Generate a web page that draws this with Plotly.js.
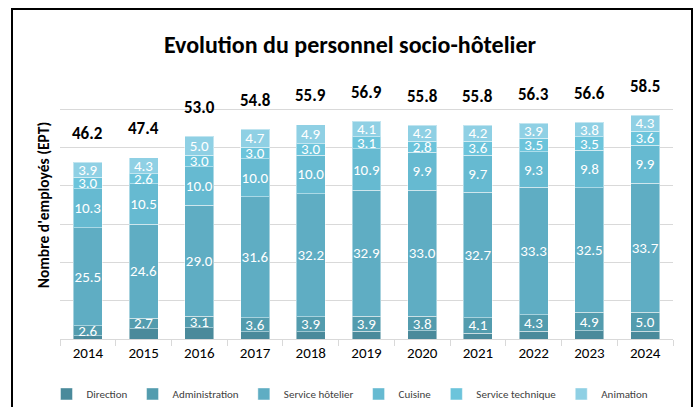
<!DOCTYPE html>
<html>
<head>
<meta charset="utf-8">
<script src="https://cdn.plot.ly/plotly-3.0.1.min.js"></script>
<style>
  html, body { margin: 0; padding: 0; background: #fff; }
  #wrap { position: relative; width: 700px; height: 407px; overflow: hidden; }
  #chart { width: 700px; height: 407px; }
  #frame { position: absolute; left: 11px; top: 8px; width: 682px; height: 430px;
           border: 2px solid #000; box-sizing: border-box; pointer-events: none; }
</style>
</head>
<body>
<div id="wrap">
  <div id="chart"></div>
  <div id="frame"></div>
</div>
<script>
const years = ['2014','2015','2016','2017','2018','2019','2020','2021','2022','2023','2024'];
const direction        = [0.9, 2.7, 2.9, 1.9, 1.9, 2.0, 2.1, 1.5, 2.0, 2.1, 2.0];
const administration   = [2.6, 2.7, 3.1, 3.6, 3.9, 3.9, 3.8, 4.1, 4.3, 4.9, 5.0];
const serviceHotelier  = [25.5, 24.6, 29.0, 31.6, 32.2, 32.9, 33.0, 32.7, 33.3, 32.5, 33.7];
const cuisine          = [10.3, 10.5, 10.0, 10.0, 10.0, 10.9, 9.9, 9.7, 9.3, 9.8, 9.9];
const serviceTechnique = [3.0, 2.6, 3.0, 3.0, 3.0, 3.1, 2.8, 3.6, 3.5, 3.5, 3.6];
const animation        = [3.9, 4.3, 5.0, 4.7, 4.9, 4.1, 4.2, 4.2, 3.9, 3.8, 4.3];
const totals           = [46.2, 47.4, 53.0, 54.8, 55.9, 56.9, 55.8, 55.8, 56.3, 56.6, 58.5];

const FONT = "Carlito, Lato, 'Liberation Sans', sans-serif";

const series = [
  {name: 'Direction',         values: direction,        color: '#4a8a9b', labels: false},
  {name: 'Administration',    values: administration,   color: '#539cae', labels: true},
  {name: 'Service hôtelier',  values: serviceHotelier,  color: '#5fadc3', labels: true},
  {name: 'Cuisine',           values: cuisine,          color: '#66bad1', labels: true},
  {name: 'Service technique', values: serviceTechnique, color: '#6cc4db', labels: true},
  {name: 'Animation',         values: animation,        color: '#8fd0e4', labels: true}
];

const traces = series.map(s => ({
  type: 'bar',
  name: s.name,
  x: years,
  y: s.values,
  marker: {color: s.color, line: {color: 'rgba(255,255,255,0.45)', width: 1}},
  text: s.labels ? s.values.map(v => v.toFixed(1)) : undefined,
  textposition: s.labels ? 'inside' : 'none',
  insidetextanchor: 'middle',
  constraintext: 'none',
  textangle: 0,
  textfont: {color: '#ffffff', size: 15, family: FONT},
  cliponaxis: false,
  hoverinfo: 'x+y+name'
}));

// annotations placed by category index so the category axis is not stretched
const annotations = years.map((yr, i) => ({
  x: i, y: totals[i], xref: 'x', yref: 'y',
  text: '<b>' + totals[i].toFixed(1) + '</b>',
  showarrow: false, yshift: 29, yanchor: 'middle',
  font: {family: FONT, size: 17, color: '#000'}
}));

const layout = {
  width: 700, height: 407,
  margin: {l: 60, r: 27, t: 71, b: 68, autoexpand: false},
  paper_bgcolor: '#fff', plot_bgcolor: '#fff',
  barmode: 'stack',
  bargap: 0.48,
  font: {family: FONT, color: '#404040'},
  title: {
    text: '<b>Evolution du personnel socio-hôtelier</b>',
    font: {family: FONT, size: 24, color: '#000'},
    x: 0.5, xanchor: 'center', xref: 'container',
    y: 1 - 45/407, yref: 'container', yanchor: 'middle'
  },
  xaxis: {
    type: 'category',
    range: [-0.5, years.length - 0.5],
    autorange: false,
    showline: true, linecolor: '#d9d9d9', linewidth: 1,
    ticks: 'outside', tickson: 'boundaries', ticklen: 6, tickcolor: '#d9d9d9',
    tickfont: {family: FONT, size: 15, color: '#000'},
    showgrid: false, fixedrange: true
  },
  yaxis: {
    range: [0, 70], autorange: false, dtick: 10,
    showgrid: true, gridcolor: '#d9d9d9', gridwidth: 1,
    showticklabels: false, zeroline: false, ticks: '',
    title: {text: "<b>Nombre d'employés (EPT)</b>", font: {family: FONT, size: 15.5, color: '#000'}, standoff: 5},
    fixedrange: true
  },
  showlegend: true,
  legend: {
    orientation: 'h', x: 0.5, xanchor: 'center', xref: 'container',
    y: -0.205, yanchor: 'middle', yref: 'paper',
    font: {family: FONT, size: 11, color: '#404040'},
    itemwidth: 30,
    traceorder: 'normal'
  },
  annotations: annotations
};

Plotly.newPlot('chart', traces, layout, {displayModeBar: false, staticPlot: true});
</script>
</body>
</html>
